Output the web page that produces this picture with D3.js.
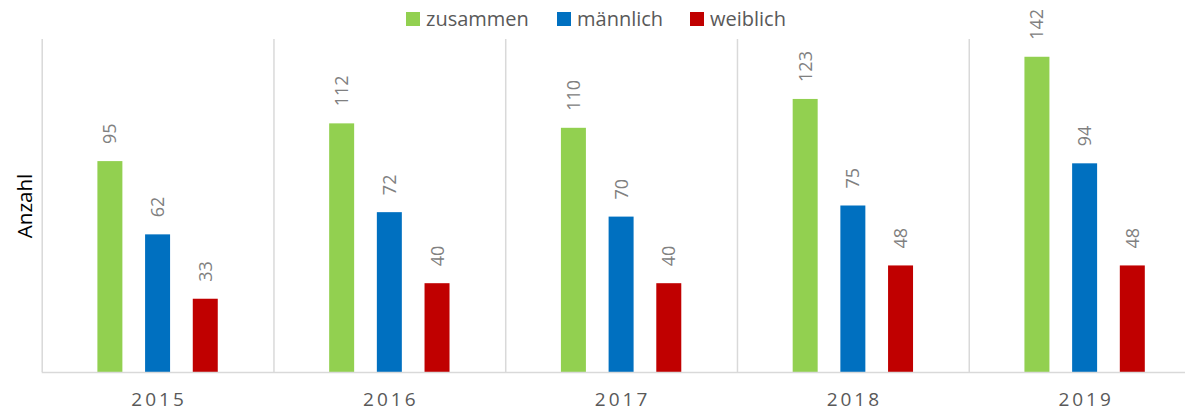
<!DOCTYPE html>
<html lang="de">
<head>
<meta charset="UTF-8">
<title>Anzahl 2015-2019</title>
<style>
  body { margin: 0; background: #fff; }
  svg { display: block; font-family: "Open Sans", sans-serif; }
</style>
</head>
<body>
<svg id="chart" width="1185" height="411"></svg>
<script src="https://cdn.jsdelivr.net/npm/d3@7"></script>
<script>
// data
var years = ["2015", "2016", "2017", "2018", "2019"];
var seriesNames = ["zusammen", "männlich", "weiblich"];
var zusammen = [95, 112, 110, 123, 142];
var maennlich = [62, 72, 70, 75, 94];
var weiblich = [33, 40, 40, 48, 48];
var seriesColors = ["#92d050", "#0070c0", "#c00000"];

var values = [zusammen, maennlich, weiblich];

var svg = d3.select("#chart");

// plot runs a little past the right edge, like the original crop
var x0 = d3.scaleBand().domain(years).range([41.7, 1200.5]).padding(0);
var x1 = d3.scaleBand().domain(seriesNames).range([0, x0.bandwidth()])
    .paddingInner(0.476).paddingOuter(1.168);
var y = d3.scaleLinear().domain([0, 150]).range([372, 39]);

// vertical separators between categories
svg.append("g").selectAll("line")
    .data(years)
    .join("line")
    .attr("x1", function(d) { return x0(d) + 0.5; })
    .attr("x2", function(d) { return x0(d) + 0.5; })
    .attr("y1", y(150))
    .attr("y2", y(0))
    .attr("stroke", "#d9d9d9")
    .attr("stroke-width", 1.5);

// bars
var groups = svg.append("g").selectAll("g")
    .data(years)
    .join("g")
    .attr("transform", function(d) { return "translate(" + x0(d) + ",0)"; });

groups.selectAll("rect")
    .data(function(d, i) {
        return seriesNames.map(function(s, j) { return { s: s, v: values[j][i], c: seriesColors[j] }; });
    })
    .join("rect")
    .attr("x", function(d) { return x1(d.s); })
    .attr("width", x1.bandwidth())
    .attr("y", function(d) { return y(d.v); })
    .attr("height", function(d) { return y(0) - y(d.v); })
    .attr("fill", function(d) { return d.c; });

// rotated value labels
groups.selectAll("text")
    .data(function(d, i) {
        return seriesNames.map(function(s, j) { return { s: s, v: values[j][i] }; });
    })
    .join("text")
    .attr("transform", function(d) {
        return "translate(" + (x1(d.s) + x1.bandwidth() / 2 + 6.5) + "," + (y(d.v) - 17) + ") rotate(-90)";
    })
    .attr("font-size", 18)
    .attr("fill", "#808080")
    .text(function(d) { return d.v; });

// baseline
svg.append("line")
    .attr("x1", 41.7).attr("x2", 1200.5)
    .attr("y1", y(0) + 0.5).attr("y2", y(0) + 0.5)
    .attr("stroke", "#d9d9d9")
    .attr("stroke-width", 1.5);

// category axis labels
var xAxis = svg.append("g")
    .attr("transform", "translate(0," + y(0) + ")")
    .call(d3.axisBottom(x0).tickSize(0).tickPadding(21));
xAxis.select(".domain").remove();
xAxis.selectAll("text")
    .attr("font-family", "Open Sans, sans-serif")
    .attr("font-size", 19)
    .attr("letter-spacing", 3)
    .attr("dx", 1.5)
    .attr("fill", "#595959");

// y title
svg.append("text")
    .attr("transform", "translate(32,206) rotate(-90)")
    .attr("text-anchor", "middle")
    .attr("font-size", 20.5)
    .attr("fill", "#000")
    .text("Anzahl");

// legend
var legendX = [406, 557, 690];
var legend = svg.append("g").selectAll("g")
    .data(seriesNames)
    .join("g")
    .attr("transform", function(d, i) { return "translate(" + legendX[i] + ",12)"; });
legend.append("rect")
    .attr("width", 14).attr("height", 14)
    .attr("fill", function(d, i) { return seriesColors[i]; });
legend.append("text")
    .attr("x", 20).attr("y", 14)
    .attr("font-size", 20)
    .attr("fill", "#595959")
    .text(function(d) { return d; });
</script>
</body>
</html>
